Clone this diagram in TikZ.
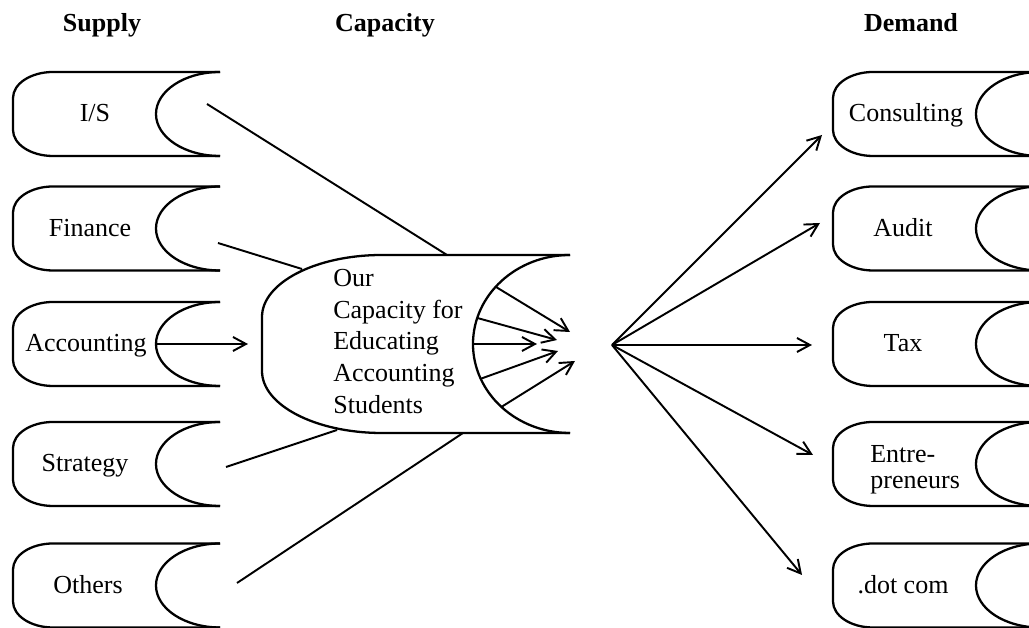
\documentclass[tikz,border=0pt]{standalone}
\usepackage{fontspec}
\setmainfont{Liberation Serif}
\usetikzlibrary{arrows.meta, calc}

\tikzset{
  drumline/.style={line width=1.3pt},
  link/.style={line width=1.1pt},
  feed/.style={line width=1.1pt, -{Straight Barb[length=2.6mm,width=2.8mm]}},
  lbl/.style={inner sep=0pt, anchor=base, font=\fontsize{14.8}{18}\selectfont},
  head/.style={inner sep=0pt, anchor=base, font=\fontsize{14.8}{18}\selectfont\bfseries},
  % drum = width/half height/corner x radius/corner y radius/end x radius
  pics/drum/.style args={#1/#2/#3/#4/#5}{code={
    \draw[drumline] (0,#2) -- (-#1+#3,#2)
      arc[start angle=90,end angle=180,x radius=#3,y radius=#4]
      -- (-#1,-#2+#4)
      arc[start angle=180,end angle=270,x radius=#3,y radius=#4]
      -- (0,-#2);
    \draw[drumline] (0,#2) arc[start angle=90,end angle=270,x radius=#5,y radius=#2];
  }}
}

\begin{document}
\begin{tikzpicture}[x=0.02cm, y=0.02cm]
\useasboundingbox (0,0) rectangle (1029,628);
\clip (0,0) rectangle (1029,628);

% headings
\node[head] (supply) at (102,596) {Supply};
\node[head] (capacity) at (385,596) {Capacity};
\node[head] (demand) at (911,596) {Demand};

% supply side
\foreach \yy in {514,399.5,284,164,42.5}
  \pic at (220,\yy) {drum=207/42/40/26/64};
\node[lbl] (is) at (95,506) {I/S};
\node[lbl] (fin) at (90,391.5) {Finance};
\node[lbl] (acc) at (86,276) {Accounting};
\node[lbl] (str) at (85,156) {Strategy};
\node[lbl] (oth) at (88,34.5) {Others};

% capacity
\pic at (570,284) {drum=308/89/120/62/97};
\node[inner sep=0pt, anchor=north west, align=left, font=\fontsize{14.8}{18}\selectfont] (cap) at (333,359)
  {Our\\Capacity for\\Educating\\Accounting\\Students};

% demand side
\foreach \yy in {514,399.5,284,164,42.5}
  \pic at (1040,\yy) {drum=207/42/40/26/64};
\node[lbl] (con) at (906,506) {Consulting};
\node[lbl] (aud) at (903,391.5) {Audit};
\node[lbl] (tax) at (903,276) {Tax};
\node[inner sep=0pt, anchor=north west, align=left, font=\fontsize{14.8}{15}\selectfont] (ent) at (870,183)
  {Entre-\\preneurs};
\node[lbl] (dot) at (903,34.5) {.dot com};

% supply links
\coordinate (is-out) at (207,524);
\coordinate (fin-out) at (218,385);
\coordinate (acc-out) at (156,284);
\coordinate (str-out) at (226,161);
\coordinate (oth-out) at (237,45);
\coordinate (cap-top) at (447,373);
\coordinate (cap-tl) at (302,359);
\coordinate (cap-in) at (248,284);
\coordinate (cap-bl) at (337,198);
\coordinate (cap-bot) at (463,195);
\draw[link] (is-out) -- (cap-top);
\draw[link] (fin-out) -- (cap-tl);
\draw[feed] (acc-out) -- (cap-in);
\draw[link] (str-out) -- (cap-bl);
\draw[link] (oth-out) -- (cap-bot);

% rays out of the capacity drum
\foreach \a/\tx/\ty [count=\i] in {140/570/296, 163/557/288, 180/537/284, 203/558/277, 225/575/267}{
  \coordinate (ray\i) at ($(570,284)+(\a:97 and 89)$);
  \coordinate (tip\i) at (\tx,\ty);
  \draw[feed] (ray\i) -- (tip\i);
}

% demand fan
\coordinate (hub) at (612,283);
\foreach \tx/\ty [count=\i] in {822/493, 820/405, 812/283, 813/173, 802/53}{
  \coordinate (out\i) at (\tx,\ty);
  \draw[feed] (hub) -- (out\i);
}
\end{tikzpicture}
\end{document}
